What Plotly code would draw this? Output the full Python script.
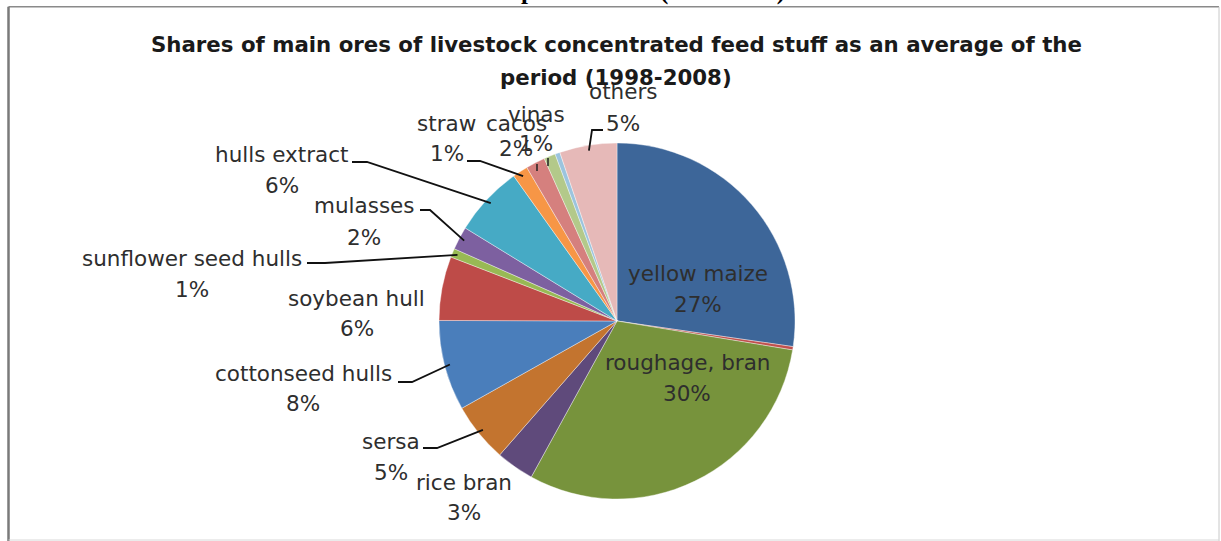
import math
import plotly.graph_objects as go

# ---------------- data ----------------
labels = ["yellow maize", "unlabelled 1", "roughage, bran", "rice bran", "sersa",
          "cottonseed hulls", "soybean hull", "sunflower seed hulls", "mulasses",
          "hulls extract", "straw", "cacos", "vinas", "unlabelled 2", "others"]
values = [27.3, 0.3, 30.4, 3.45, 5.4, 8.2, 5.8, 0.8, 2.1, 6.4, 1.4, 1.75, 1.05, 0.45, 5.2]
colors = ["#3D6699", "#C0504D", "#77933C", "#5F4A7B", "#C3742F",
          "#4A7EBB", "#BE4B48", "#98B954", "#7D60A0",
          "#46AAC5", "#F79646", "#D5807E", "#B3C98A", "#9BC4DE", "#E6B9B8"]
shown_labels = ["yellow maize", "roughage, bran", "rice bran", "sersa", "cottonseed hulls",
                "soybean hull", "sunflower seed hulls", "mulasses", "hulls extract",
                "straw", "cacos", "vinas", "others"]

title_l1 = "Shares of main ores of livestock concentrated feed stuff as an average of the"
title_l2 = "period (1998-2008)"

# ---------------- layout (pixels) ----------------
W, H = 1221, 541
CX, CY, R = 617, 321, 178

# label centre x, name y, percent y
label_pos = {
    "yellow maize": (698, 273, 304),
    "roughage, bran": (687, 362, 393),
    "rice bran": (464, 482, 512),
    "sersa": (391, 441, 472),
    "cottonseed hulls": (303, 373, 403),
    "soybean hull": (357, 298, 328),
    "sunflower seed hulls": (192, 258, 289),
    "mulasses": (364, 206, 237),
    "hulls extract": (282, 154, 185),
    "straw": (447, 123, 153),
    "cacos": (516, 123, 148),
    "vinas": (536, 114, 143),
    "others": (623, 92, 123),
}
# leader line points on the label side (the pie end is computed from the slice angle)
leader_pts = {
    "others": [(603, 130), (592, 130)],
    "straw": [(467, 161), (480, 161)],
    "hulls extract": [(352, 162), (367, 162)],
    "mulasses": [(420, 210), (430, 210)],
    "sunflower seed hulls": [(307, 263), (325, 263)],
    "cottonseed hulls": [(398, 382), (412, 382)],
    "sersa": [(423, 448), (437, 448)],
}
ticks = [[(537, 164), (537, 171)], [(548, 158), (548, 166)]]


def px(x):
    return x / W


def py(y):
    return 1 - y / H


total = sum(values)
mid_angle = {}
acc = 0.0
for lab, v in zip(labels, values):
    mid_angle[lab] = (acc + v / 2) / total * 360.0
    acc += v

fig = go.Figure(go.Pie(
    labels=labels, values=values, sort=False, direction="clockwise", rotation=0,
    marker=dict(colors=colors, line=dict(color="rgba(255,255,255,0.55)", width=0.7)),
    textinfo="none", hoverinfo="label+percent", showlegend=False,
    domain=dict(x=[px(CX - R), px(CX + R)], y=[py(CY + R), py(CY - R)]),
))

annotations = []
font_lab = dict(family="DejaVu Sans", size=21.5, color="#2e2e2e")
for lab in shown_labels:
    v = values[labels.index(lab)]
    x, yn, yp = label_pos[lab]
    annotations.append(dict(x=px(x), y=py(yn), xref="paper", yref="paper", text=lab,
                            showarrow=False, font=font_lab, xanchor="center", yanchor="middle"))
    annotations.append(dict(x=px(x), y=py(yp), xref="paper", yref="paper",
                            text=f"{round(v / total * 100):d}%",
                            showarrow=False, font=font_lab, xanchor="center", yanchor="middle"))

font_t = dict(family="DejaVu Sans", size=21.3, color="#1a1a1a")
annotations.append(dict(x=px(616), y=py(44), xref="paper", yref="paper", text=f"<b>{title_l1}</b>",
                        showarrow=False, font=font_t, xanchor="center", yanchor="middle"))
annotations.append(dict(x=px(616), y=py(77), xref="paper", yref="paper", text=f"<b>{title_l2}</b>",
                        showarrow=False, font=font_t, xanchor="center", yanchor="middle"))
# cut-off document heading above the chart frame
annotations.append(dict(x=px(519), y=py(-9), xref="paper", yref="paper",
                        text="<b>pie chart for (1998-2008)</b>", showarrow=False,
                        font=dict(family="Liberation Serif", size=25, color="#000000"),
                        xanchor="left", yanchor="middle"))

shapes = []
for lab, pts in leader_pts.items():
    a = math.radians(mid_angle[lab])
    ex = CX + 0.97 * R * math.sin(a)
    ey = CY - 0.97 * R * math.cos(a)
    allp = pts + [(ex, ey)]
    path = "M " + " L ".join(f"{px(x):.5f},{py(y):.5f}" for x, y in allp)
    shapes.append(dict(type="path", path=path, xref="paper", yref="paper",
                       line=dict(color="#111111", width=1.8)))
for t in ticks:
    (x0, y0), (x1, y1) = t
    shapes.append(dict(type="line", x0=px(x0), y0=py(y0), x1=px(x1), y1=py(y1),
                       xref="paper", yref="paper", line=dict(color="#222222", width=1.5)))

# chart frame
shapes += [
    dict(type="line", x0=px(8.5), x1=px(1219), y0=py(6.8), y1=py(6.8), xref="paper", yref="paper",
         line=dict(color="#8a8a8a", width=1.5)),
    dict(type="line", x0=px(8.5), x1=px(8.5), y0=py(6.8), y1=py(541), xref="paper", yref="paper",
         line=dict(color="#7a7a7a", width=2.5)),
    dict(type="line", x0=px(1219), x1=px(1219), y0=py(6.8), y1=py(541), xref="paper", yref="paper",
         line=dict(color="#c8c8c8", width=1)),
    dict(type="line", x0=px(8.5), x1=px(1219), y0=py(540), y1=py(540), xref="paper", yref="paper",
         line=dict(color="#d8d8d8", width=1)),
]

fig.update_layout(
    width=W, height=H, margin=dict(l=0, r=0, t=0, b=0),
    paper_bgcolor="white", plot_bgcolor="white",
    annotations=annotations, shapes=shapes,
)

fig.write_html("out.html")
